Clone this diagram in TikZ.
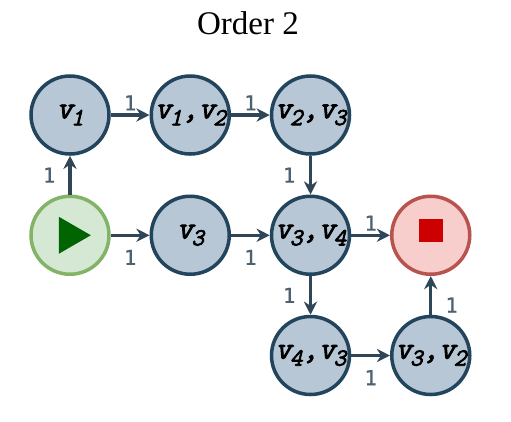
\documentclass[tikz,border=0pt]{standalone}
\usepackage{fontspec}
\setmainfont{Liberation Serif}
\newfontfamily\labelfont{DejaVu Sans Mono}[RawFeature={embolden=0.8}]
\newfontfamily\statefont{Latin Modern Mono}[RawFeature={embolden=2.8;slant=0.25}]
\usetikzlibrary{shapes.geometric, arrows.meta, positioning}
\definecolor{StateFill}{HTML}{B8C7D5}
\definecolor{StateBorder}{HTML}{23445D}
\definecolor{StartFill}{HTML}{D5E8D4}
\definecolor{StartBorder}{HTML}{82B366}
\definecolor{StopFill}{HTML}{F8CECC}
\definecolor{StopBorder}{HTML}{B85450}
\definecolor{EdgeColor}{HTML}{2F4558}
\definecolor{PlayColor}{HTML}{006400}
\definecolor{HaltColor}{HTML}{CC0000}
\newcommand{\vsub}[1]{v\kern-0.05em\raisebox{-0.22em}{\fontsize{14}{14}\selectfont #1}}

\begin{document}
\begin{tikzpicture}[
        node distance=2.405cm and 2.405cm, on grid,
        statebox/.style={circle, draw=StateBorder, fill=StateFill, line width=2pt, minimum size=1.56cm, inner sep=0pt, align=center, font=\fontsize{18}{18}\statefont, text=black},
        startbox/.style={statebox, draw=StartBorder, fill=StartFill},
        stopbox/.style={statebox, draw=StopBorder, fill=StopFill},
        arrow/.style={-{Stealth[length=7.5pt,width=7.5pt]}, line width=1.9pt, EdgeColor},
        weight/.style={font=\fontsize{11.7}{11.7}\labelfont, text=EdgeColor!85, inner sep=0pt}
      ]
        \useasboundingbox (0,0) rectangle (10.22,-8.42);
        \node[font=\fontsize{18.8}{18.8}\selectfont] (title) at (4.96,-0.46) {Order 2};

        % Nodes
        \node[statebox] (v1) at (1.4,-2.3) {\vsub{1}};
        \node[statebox, right=of v1] (v1v2) {\vsub{1},\vsub{2}};
        \node[statebox, right=of v1v2] (v2v3) {\vsub{2},\vsub{3}};
        \node[startbox, below=of v1] (start) {};
        \node[statebox, right=of start] (v3) {\vsub{3}};
        \node[statebox, right=of v3] (v3v4) {\vsub{3},\vsub{4}};
        \node[stopbox, right=of v3v4] (stop) {};
        \node[statebox, below=of v3v4] (v4v3) {\vsub{4},\vsub{3}};
        \node[statebox, right=of v4v3] (v3v2) {\vsub{3},\vsub{2}};

        % Icons
        \node[isosceles triangle, isosceles triangle stretches, fill=PlayColor, minimum width=0.74cm, minimum height=0.64cm, inner sep=0pt, xshift=-0.01cm] (play) at (start) {};
        \node[rectangle, fill=HaltColor, minimum size=0.47cm, inner sep=0pt, yshift=0.1cm] (halt) at (stop) {};

        % Connections
        \draw[arrow] (start) -- node[weight, left=0.26cm] {1} (v1);
        \draw[arrow] (v1) -- node[weight, above=0.06cm] {1} (v1v2);
        \draw[arrow] (v1v2) -- node[weight, above=0.06cm] {1} (v2v3);
        \draw[arrow] (v2v3) -- node[weight, left=0.27cm] {1} (v3v4);
        \draw[arrow] (start) -- node[weight, below=0.26cm] {1} (v3);
        \draw[arrow] (v3) -- node[weight, below=0.26cm] {1} (v3v4);
        \draw[arrow] (v3v4) -- node[weight, above=0.06cm] {1} (stop);
        \draw[arrow] (v3v4) -- node[weight, left=0.27cm] {1} (v4v3);
        \draw[arrow] (v4v3) -- node[weight, below=0.26cm] {1} (v3v2);
        \draw[arrow] (v3v2) -- node[weight, right=0.26cm, pos=0.25] {1} (stop);
      \end{tikzpicture}
\end{document}
